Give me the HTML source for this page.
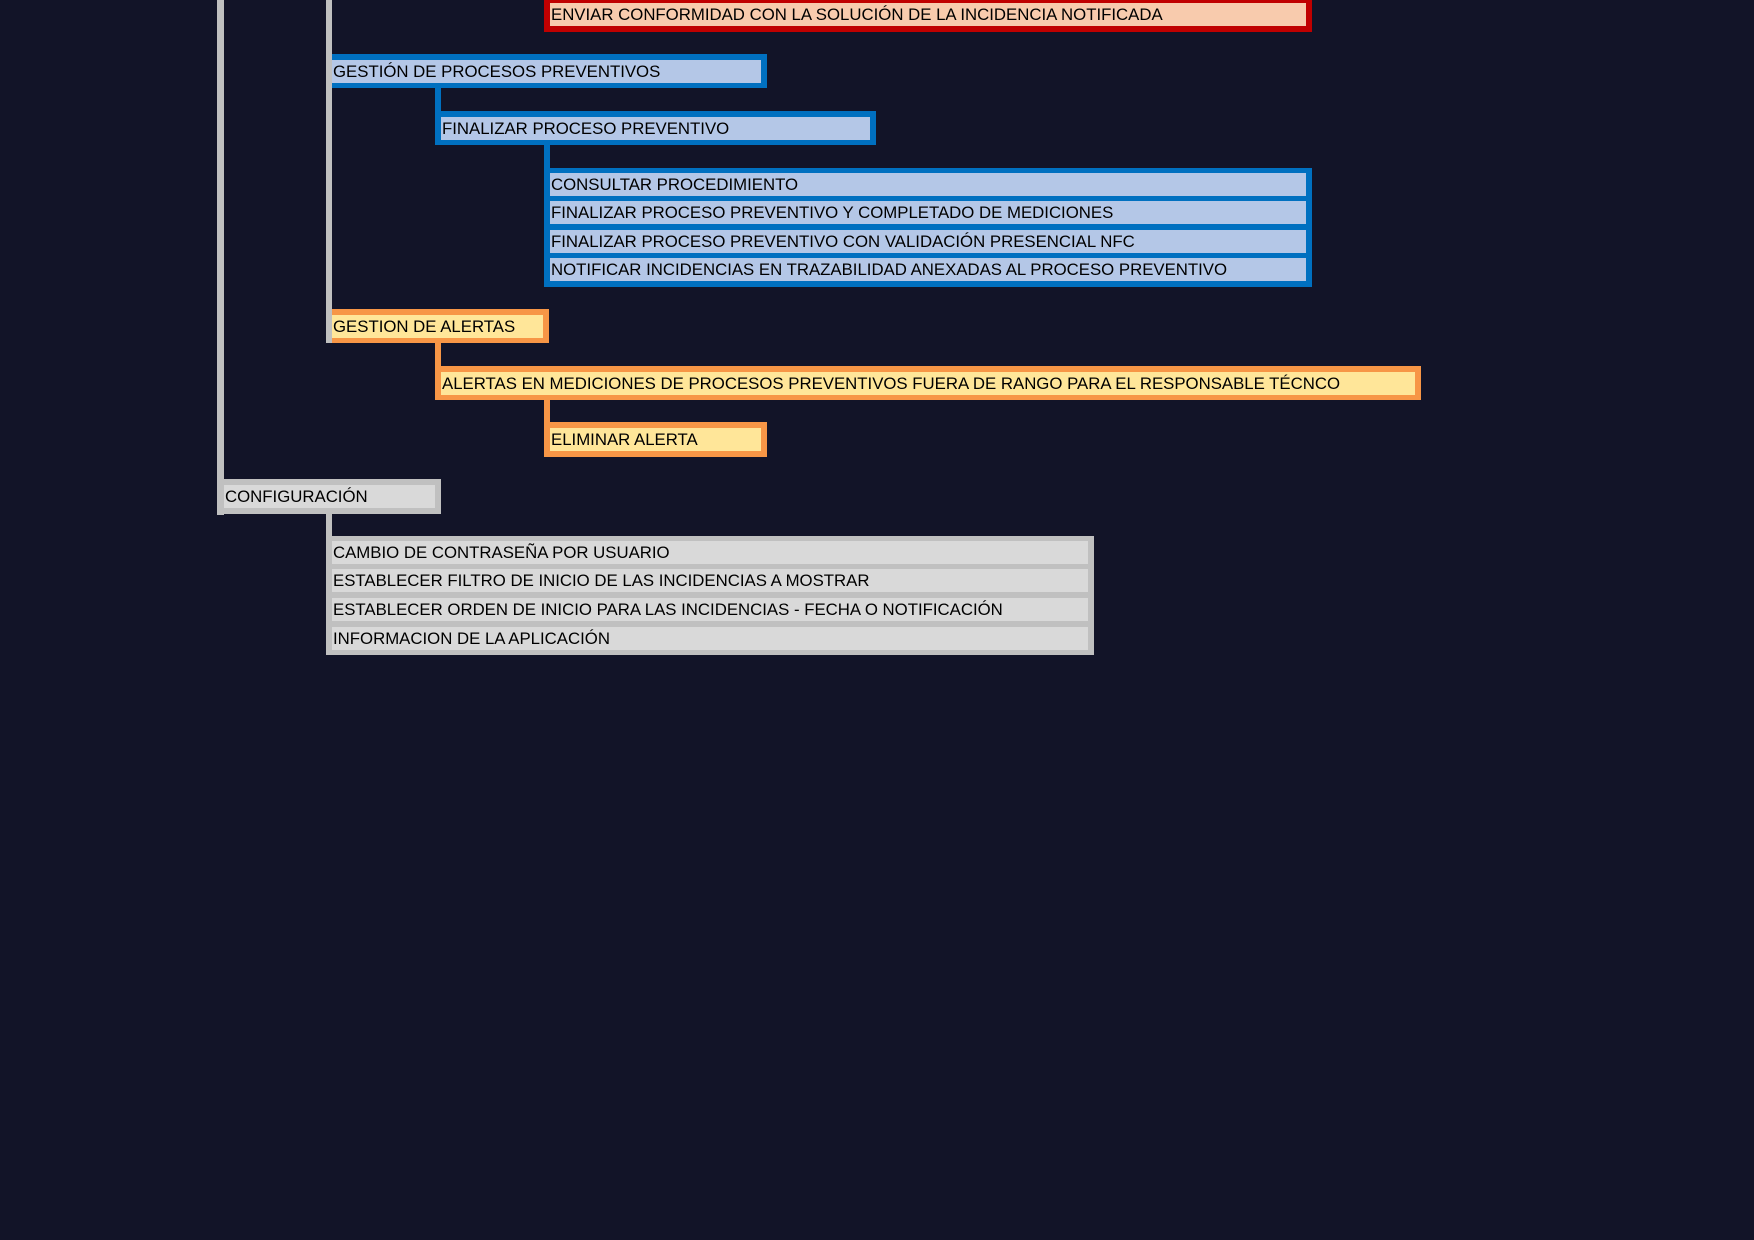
<!DOCTYPE html>
<html><head><meta charset="utf-8"><style>
body{margin:0;width:1754px;height:1240px;background:#121428;position:relative;overflow:hidden;font-family:"Liberation Sans",sans-serif;}
div{position:absolute;box-sizing:border-box}
.t{font-size:16.8px;line-height:24px;color:#000;white-space:nowrap;padding-left:1px;overflow:hidden}
.b{background:#0070c0}.bf{background:#b4c7e7}
.o{background:#f79646}.of{background:#ffe699}
.g{background:#c0c0c0}.gf{background:#d9d9d9}
.r{background:#c00000}.rf{background:#f8cbad}
</style></head><body>
<div class="g" style="left:217px;top:0;width:7px;height:515px"></div>
<div class="g" style="left:326px;top:0;width:6px;height:343px"></div>

<div class="r" style="left:544px;top:-6px;width:768px;height:38px"></div>
<div class="t rf" style="left:550px;top:3px;width:756px;height:23px">ENVIAR CONFORMIDAD CON LA SOLUCIÓN DE LA INCIDENCIA NOTIFICADA</div>

<div class="b" style="left:332px;top:54px;width:435px;height:34px"></div>
<div class="t bf" style="left:332px;top:60px;width:429px;height:23px">GESTIÓN DE PROCESOS PREVENTIVOS</div>
<div class="b" style="left:435px;top:87px;width:6px;height:26px"></div>
<div class="b" style="left:435px;top:111px;width:441px;height:34px"></div>
<div class="t bf" style="left:441px;top:117px;width:429px;height:23px">FINALIZAR PROCESO PREVENTIVO</div>
<div class="b" style="left:544px;top:144px;width:6px;height:26px"></div>
<div class="b" style="left:544px;top:168px;width:768px;height:119px"></div>
<div class="t bf" style="left:550px;top:173px;width:756px;height:23px">CONSULTAR PROCEDIMIENTO</div>
<div class="t bf" style="left:550px;top:201px;width:756px;height:23px">FINALIZAR PROCESO PREVENTIVO Y COMPLETADO DE MEDICIONES</div>
<div class="t bf" style="left:550px;top:230px;width:756px;height:23px">FINALIZAR PROCESO PREVENTIVO CON VALIDACIÓN PRESENCIAL NFC</div>
<div class="t bf" style="left:550px;top:258px;width:756px;height:23px">NOTIFICAR INCIDENCIAS EN TRAZABILIDAD ANEXADAS AL PROCESO PREVENTIVO</div>

<div class="o" style="left:332px;top:309px;width:217px;height:34px"></div>
<div class="t of" style="left:332px;top:315px;width:211px;height:23px">GESTION DE ALERTAS</div>
<div class="o" style="left:435px;top:343px;width:6px;height:26px"></div>
<div class="o" style="left:435px;top:366px;width:986px;height:34px"></div>
<div class="t of" style="left:441px;top:372px;width:974px;height:23px">ALERTAS EN MEDICIONES DE PROCESOS PREVENTIVOS FUERA DE RANGO PARA EL RESPONSABLE TÉCNCO</div>
<div class="o" style="left:544px;top:399px;width:6px;height:26px"></div>
<div class="o" style="left:544px;top:422px;width:223px;height:35px"></div>
<div class="t of" style="left:550px;top:428px;width:211px;height:23px">ELIMINAR ALERTA</div>

<div class="g" style="left:217px;top:479px;width:224px;height:35px"></div>
<div class="t gf" style="left:224px;top:485px;width:211px;height:23px">CONFIGURACIÓN</div>
<div class="g" style="left:326px;top:513px;width:6px;height:26px"></div>
<div class="g" style="left:326px;top:536px;width:768px;height:119px"></div>
<div class="t gf" style="left:332px;top:541px;width:756px;height:23px">CAMBIO DE CONTRASEÑA POR USUARIO</div>
<div class="t gf" style="left:332px;top:569px;width:756px;height:23px">ESTABLECER FILTRO DE INICIO DE LAS INCIDENCIAS A MOSTRAR</div>
<div class="t gf" style="left:332px;top:598px;width:756px;height:23px">ESTABLECER ORDEN DE INICIO PARA LAS INCIDENCIAS - FECHA O NOTIFICACIÓN</div>
<div class="t gf" style="left:332px;top:627px;width:756px;height:23px">INFORMACION DE LA APLICACIÓN</div>
</body></html>
